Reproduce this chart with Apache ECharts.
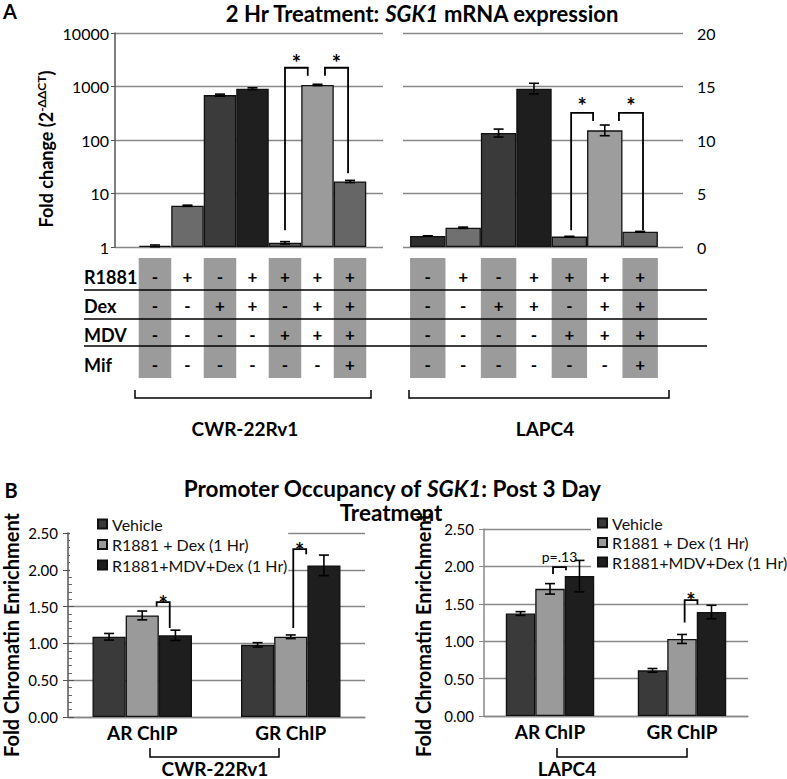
<!DOCTYPE html>
<html><head><meta charset="utf-8">
<script src="https://cdn.jsdelivr.net/npm/echarts@6/dist/echarts.min.js"></script>
<style>html,body{margin:0;padding:0;background:#fff}#c{width:787px;height:779px}</style>
</head><body><div id="c"></div>
<script>
// ---------- Panel A data ----------
const treatmentRows = ['R1881', 'Dex', 'MDV', 'Mif'];
const treatR1881 = ['-', '+', '-', '+', '+', '+', '+'];
const treatDex   = ['-', '-', '+', '+', '-', '+', '+'];
const treatMDV   = ['-', '-', '-', '-', '+', '+', '+'];
const treatMif   = ['-', '-', '-', '-', '-', '-', '+'];
const cellLines = ['CWR-22Rv1', 'LAPC4'];
const conditionIdx = [0, 1, 2, 3, 4, 5, 6];
const cwrFold = [1.05, 5.9, 690, 910, 1.2, 1070, 16.8];
const cwrErr  = [0.04, 0.15, 30, 35, 0.06, 30, 0.8];
const lapcFold = [1.03, 1.8, 10.65, 14.8, 0.97, 10.9, 1.43];
const lapcErr  = [0.02, 0.06, 0.37, 0.5, 0.03, 0.5, 0.03];
// significance brackets: [xLeft, yLeftLeg, xRight, yTop, yRightLeg, yLabel]
const cwrSig  = [[4.0, 2.06, 4.7, 2240, 1580, 3600], [5.23, 1580, 5.94, 2240, 24, 3600]];
const cwrSigLabels = ['*', '*'];
const lapcSig = [[4.05, 1.57, 4.67, 12.53, 11.78, 13.75], [5.40, 11.78, 6.08, 12.53, 1.57, 13.75]];
const lapcSigLabels = ['*', '*'];

// ---------- Panel B data ----------
const chipCats = ['AR ChIP', 'GR ChIP'];
const chipSeries = ['Vehicle', 'R1881 + Dex (1 Hr)', 'R1881+MDV+Dex (1 Hr)'];
const cwrVehicle = [1.09, 0.98];
const cwrRD      = [1.38, 1.09];
const cwrRMD     = [1.11, 2.06];
const cwrVehicleErr = [0.045, 0.03];
const cwrRDErr      = [0.06, 0.025];
const cwrRMDErr     = [0.07, 0.14];
const lapcVehicle = [1.37, 0.61];
const lapcRD      = [1.70, 1.03];
const lapcRMD     = [1.87, 1.39];
const lapcVehicleErr = [0.025, 0.025];
const lapcRDErr      = [0.07, 0.06];
const lapcRMDErr     = [0.21, 0.09];
// brackets: [cat, yLeftLeg, offLeft, yTop, yRightLeg, offRight, yLabel]
const cwrChipSig = [[0, 1.50, 0.097, 1.56, 1.21, 0.185, 1.62], [1, 1.21, 0.017, 2.28, 2.21, 0.104, 2.35]];
const cwrChipSigLabels = ['*', '*'];
const lapcChipSig = [[0, 1.90, 0.023, 1.99, 1.95, 0.121, 2.13], [1, 1.25, 0.02, 1.55, 1.49, 0.117, 1.63]];
const lapcChipSigLabels = ['p=.13', '*'];

// ---------- styles ----------
const FONT = 'Lato, "Open Sans", sans-serif';
const cwrColors  = ['#3a3a3a', '#6b6b6b', '#3b3b3b', '#1f1f1f', '#555555', '#9b9b9b', '#666666'];
const lapcColors = ['#2e2e2e', '#707070', '#3a3a3a', '#1e1e1e', '#606060', '#9d9d9d', '#696969'];
const chipColors = ['#3a3a3a', '#9a9a9a', '#1e1e1e'];

const chart = echarts.init(document.getElementById('c'), null, {renderer: 'svg', width: 787, height: 779});

function lineEl(x1, y1, x2, y2, w) {
  return {type: 'line', shape: {x1, y1, x2, y2}, style: {stroke: '#000', lineWidth: w || 1.5}};
}
function txt(text, x, y, size, weight, extra) {
  return Object.assign({type: 'text', style: {text, x, y, fontSize: size, fontWeight: weight || 'normal', fontFamily: FONT,
    font: (weight || 'normal') + ' ' + size + 'px ' + FONT,
    fill: '#000', textFill: '#000', align: 'center', verticalAlign: 'middle', textAlign: 'center', textVerticalAlign: 'middle'}}, extra || {});
}

function errRenderA(params, api) {
  const x = api.value(0), v = api.value(1), e = api.value(2);
  const t = api.coord([x, v + e]), b = api.coord([x, v - e]);
  const cap = 5;
  return {type: 'group', children: [
    lineEl(t[0], t[1], b[0], b[1], 1.6), lineEl(t[0] - cap, t[1], t[0] + cap, t[1], 1.6), lineEl(b[0] - cap, b[1], b[0] + cap, b[1], 1.6)]};
}
function errRenderB(params, api) {
  const c = api.value(0), v = api.value(1), e = api.value(2), s = api.value(3);
  const band = api.size([1, 0])[0];
  const bw = band * 0.67 / 3;
  const p = api.coord([c, v]);
  const x = p[0] + (s - 1) * bw;
  const t = api.coord([c, v + e])[1], b = api.coord([c, v - e])[1];
  const cap = 5;
  return {type: 'group', children: [
    lineEl(x, t, x, b, 1.6), lineEl(x - cap, t, x + cap, t, 1.6), lineEl(x - cap, b, x + cap, b, 1.6)]};
}
function sigRenderA(labels) {
  return function (params, api) {
    const p1 = api.coord([api.value(0), api.value(1)]);
    const p2 = api.coord([api.value(0), api.value(3)]);
    const p3 = api.coord([api.value(2), api.value(3)]);
    const p4 = api.coord([api.value(2), api.value(4)]);
    const pl = api.coord([api.value(0), api.value(5)]);
    return {type: 'group', children: [
      {type: 'polyline', shape: {points: [p1, p2, p3, p4]}, style: {stroke: '#000', lineWidth: 1.8, fill: null}},
      txt(labels[params.dataIndex], (p2[0] + p3[0]) / 2, pl[1] + 6, 22, 'bold')]};
  };
}
function sigRenderB(labels) {
  return function (params, api) {
    const c = api.value(0);
    const band = api.size([1, 0])[0];
    const cx = api.coord([c, 1])[0];
    const xl = cx + api.value(2) * band, xr = cx + api.value(5) * band;
    const yL = api.coord([c, api.value(1)])[1], yT = api.coord([c, api.value(3)])[1], yR = api.coord([c, api.value(4)])[1];
    const yLab = api.coord([c, api.value(6)])[1];
    const lab = labels[params.dataIndex];
    const isStar = lab === '*';
    return {type: 'group', children: [
      {type: 'polyline', shape: {points: [[xl, yL], [xl, yT], [xr, yT], [xr, yR]]}, style: {stroke: '#000', lineWidth: 1.8, fill: null}},
      txt(lab, (xl + xr) / 2, yLab + (isStar ? 6 : 0), isStar ? 22 : 14, isStar ? 'bold' : 'normal')]};
  };
}
const tableRowsY = [276, 305, 334, 364];
const tableSyms = [treatR1881, treatDex, treatMDV, treatMif];
function tableRender(params, api) {
  const i = api.value(0), yv = api.value(1);
  const cx = api.coord([i, yv])[0];
  const w = api.coord([i + 0.5, yv])[0] - api.coord([i - 0.5, yv])[0];
  const ch = [];
  if (i % 2 === 0) ch.push({type: 'rect', shape: {x: cx - w / 2, y: 258, width: w, height: 120}, style: {fill: '#9b9b9b'}});
  tableSyms.forEach(function (row, r) { ch.push(txt(row[params.dataIndex], cx, tableRowsY[r], 17, 'bold')); });
  return {type: 'group', children: ch};
}

const blackItem = {color: '#000'};
const series = [];
series.push({type: 'bar', xAxisIndex: 0, yAxisIndex: 0, barWidth: 32.5,
  data: cwrFold.map((v, i) => ({value: [conditionIdx[i], v], itemStyle: {color: cwrColors[i]}})),
  itemStyle: {borderColor: '#111', borderWidth: 1.3}, z: 2});
series.push({type: 'custom', xAxisIndex: 0, yAxisIndex: 0, renderItem: errRenderA, z: 3, itemStyle: blackItem,
  data: cwrFold.map((v, i) => [conditionIdx[i], v, cwrErr[i]])});
series.push({type: 'custom', xAxisIndex: 0, yAxisIndex: 0, renderItem: sigRenderA(cwrSigLabels), z: 6, clip: false, itemStyle: blackItem, data: cwrSig});
series.push({type: 'custom', xAxisIndex: 0, yAxisIndex: 0, renderItem: tableRender, z: 1, clip: false, itemStyle: blackItem,
  data: conditionIdx.map(i => [i, 1])});
series.push({type: 'bar', xAxisIndex: 1, yAxisIndex: 1, barWidth: 35.4,
  data: lapcFold.map((v, i) => ({value: [conditionIdx[i], v], itemStyle: {color: lapcColors[i]}})),
  itemStyle: {borderColor: '#111', borderWidth: 1.3}, z: 2});
series.push({type: 'custom', xAxisIndex: 1, yAxisIndex: 1, renderItem: errRenderA, z: 3, itemStyle: blackItem,
  data: lapcFold.map((v, i) => [conditionIdx[i], v, lapcErr[i]])});
series.push({type: 'custom', xAxisIndex: 1, yAxisIndex: 1, renderItem: sigRenderA(lapcSigLabels), z: 6, clip: false, itemStyle: blackItem, data: lapcSig});
series.push({type: 'custom', xAxisIndex: 1, yAxisIndex: 1, renderItem: tableRender, z: 1, clip: false, itemStyle: blackItem,
  data: conditionIdx.map(i => [i, 1])});
const cwrChip = [cwrVehicle, cwrRD, cwrRMD], cwrChipErr = [cwrVehicleErr, cwrRDErr, cwrRMDErr];
const lapcChip = [lapcVehicle, lapcRD, lapcRMD], lapcChipErr = [lapcVehicleErr, lapcRDErr, lapcRMDErr];
[[cwrChip, cwrChipErr, 2, 2, cwrChipSig, cwrChipSigLabels], [lapcChip, lapcChipErr, 3, 4, lapcChipSig, lapcChipSigLabels]].forEach(function (cfg) {
  const vals = cfg[0], errs = cfg[1], xi = cfg[2], yi = cfg[3];
  vals.forEach(function (arr, s) {
    series.push({type: 'bar', name: chipSeries[s], xAxisIndex: xi, yAxisIndex: yi, data: arr,
      barGap: '0%', barCategoryGap: '33%',
      itemStyle: {color: chipColors[s], borderColor: '#111', borderWidth: 1.3}, z: 2});
  });
  const ed = [];
  vals.forEach(function (arr, s) { arr.forEach(function (v, c) { ed.push([c, v, errs[s][c], s]); }); });
  series.push({type: 'custom', xAxisIndex: xi, yAxisIndex: yi, renderItem: errRenderB, z: 3, itemStyle: blackItem, data: ed});
  series.push({type: 'custom', xAxisIndex: xi, yAxisIndex: yi, renderItem: sigRenderB(cfg[5]), z: 6, clip: false, itemStyle: blackItem, data: cfg[4]});
});

const splitLine = {show: true, lineStyle: {color: '#888', width: 1.3}};
const labelStyleA = {color: '#000', fontSize: 16, fontFamily: FONT, formatter: v => String(v)};
const labelStyleB = {color: '#000', fontSize: 15, fontFamily: FONT, formatter: v => v.toFixed(2)};
const legendText = {fontSize: 16, color: '#111', fontFamily: FONT};

const option = {
  animation: false,
  backgroundColor: '#fff',
  grid: [
    {left: 115, top: 33, width: 268, height: 214},
    {left: 403, top: 33, width: 280, height: 214},
    {left: 68, top: 533, width: 297, height: 184},
    {left: 484, top: 529, width: 264, height: 187}
  ],
  xAxis: [
    {gridIndex: 0, type: 'value', min: -1.23, max: 7.015, show: false},
    {gridIndex: 1, type: 'value', min: -0.70, max: 7.21, show: false},
    {gridIndex: 2, type: 'category', data: chipCats, axisLine: {lineStyle: {color: '#888', width: 1.3}}, axisTick: {show: false},
      axisLabel: {color: '#000', fontSize: 19, fontWeight: 'bold', fontFamily: FONT, margin: 6}},
    {gridIndex: 3, type: 'category', data: chipCats, axisLine: {lineStyle: {color: '#888', width: 1.3}}, axisTick: {show: false},
      axisLabel: {color: '#000', fontSize: 19, fontWeight: 'bold', fontFamily: FONT, margin: 6}}
  ],
  yAxis: [
    {gridIndex: 0, type: 'log', logBase: 10, min: 1, max: 10000, axisLine: {show: true, onZero: false, lineStyle: {color: '#555', width: 1.5}},
      axisTick: {show: true, length: 4, lineStyle: {color: '#555'}}, axisLabel: Object.assign({margin: 6}, labelStyleA), splitLine},
    {gridIndex: 1, type: 'value', min: 0, max: 20, interval: 5, position: 'right', axisLine: {show: false, onZero: false}, axisTick: {show: false},
      axisLabel: Object.assign({margin: 14}, labelStyleA), splitLine},
    {gridIndex: 2, type: 'value', min: 0, max: 2.5, interval: 0.5, axisLine: {show: true, onZero: false, lineStyle: {color: '#555', width: 1.5}},
      axisTick: {show: true, length: 5, lineStyle: {color: '#555'}}, axisLabel: Object.assign({margin: 10}, labelStyleB), splitLine},
    {gridIndex: 2, type: 'value', min: 0, max: 2.5, interval: 0.5, position: 'left', offset: 0, axisLine: {show: false, onZero: false},
      axisTick: {show: true, inside: true, length: 6, lineStyle: {color: '#555'}},
      minorTick: {show: true, splitNumber: 5, length: 4, lineStyle: {color: '#666'}}, axisLabel: {show: false}, splitLine: {show: false}},
    {gridIndex: 3, type: 'value', min: 0, max: 2.5, interval: 0.5, axisLine: {show: true, onZero: false, lineStyle: {color: '#888', width: 1.5}},
      axisTick: {show: true, length: 5, lineStyle: {color: '#888'}}, axisLabel: Object.assign({margin: 10}, labelStyleB), splitLine}
  ],
  legend: [
    {data: chipSeries, orient: 'vertical', left: 70, top: 515, itemWidth: 9, itemHeight: 9, itemGap: 4.5, icon: 'rect',
      backgroundColor: '#fff', padding: [1, 1, 1, 27], selectedMode: false, textStyle: legendText},
    {data: chipSeries, orient: 'vertical', left: 591, top: 514, itemWidth: 9, itemHeight: 9, itemGap: 3.5, icon: 'rect',
      backgroundColor: '#fff', padding: [1, 0, 1, 6], selectedMode: false, textStyle: legendText}
  ],
  series: series,
  graphic: [
    txt('A', 10, 11, 20, 'bold'),
    {type: 'text', style: {text: '2 Hr Treatment: {i|SGK1} mRNA expression', x: 422, y: 13, fontSize: 22, fontWeight: 'bold', fontFamily: FONT,
      fill: '#000', align: 'center', verticalAlign: 'middle', textAlign: 'center', textVerticalAlign: 'middle',
      rich: {i: {fontSize: 22, fontWeight: 'bold', fontStyle: 'italic', fontFamily: FONT}}}},
    {type: 'text', x: 45, y: 149, rotation: Math.PI / 2, style: {text: '{a|Fold change (2}{s|-ΔΔCT}{a|)}', x: 0, y: 0,
      fill: '#000', align: 'center', verticalAlign: 'middle', textAlign: 'center', textVerticalAlign: 'middle',
      rich: {a: {fontSize: 18, fontWeight: 'bold', fontFamily: FONT, verticalAlign: 'bottom'},
             s: {fontSize: 12, fontWeight: 'bold', fontFamily: FONT, verticalAlign: 'bottom', padding: [0, 0, 7, 0]}}}},
    ...treatmentRows.map((t, r) => ({type: 'text', style: {text: t, x: 84, y: tableRowsY[r] + 1, fontSize: 18, fontWeight: 'bold', fontFamily: FONT,
      font: 'bold 18px ' + FONT, fill: '#000', align: 'left', verticalAlign: 'middle', textAlign: 'left', textVerticalAlign: 'middle'}})),
    Object.assign(lineEl(84, 290, 707, 290, 1.5), {z: 10}),
    Object.assign(lineEl(84, 319, 707, 319, 1.5), {z: 10}),
    Object.assign(lineEl(84, 346, 707, 346, 1.5), {z: 10}),
    {type: 'polyline', shape: {points: [[135, 390], [135, 398], [371, 398], [371, 390]]}, style: {stroke: '#000', lineWidth: 1.5, fill: null}},
    {type: 'polyline', shape: {points: [[409, 390], [409, 398], [669, 398], [669, 390]]}, style: {stroke: '#000', lineWidth: 1.5, fill: null}},
    txt(cellLines[0], 245, 428, 19, 'bold'),
    txt(cellLines[1], 545, 428, 19, 'bold'),
    txt('B', 11, 490, 20, 'bold'),
    {type: 'text', style: {text: 'Promoter Occupancy of {i|SGK1}: Post 3 Day', x: 392, y: 488, fontSize: 22.5, fontWeight: 'bold', fontFamily: FONT,
      fill: '#000', align: 'center', verticalAlign: 'middle', textAlign: 'center', textVerticalAlign: 'middle',
      rich: {i: {fontSize: 22.5, fontWeight: 'bold', fontStyle: 'italic', fontFamily: FONT}}}},
    txt('Treatment', 391, 512, 22.5, 'bold'),
    {type: 'text', x: 11, y: 635, rotation: Math.PI / 2, style: {text: 'Fold Chromatin Enrichment', x: 0, y: 0, fontSize: 20, fontWeight: 'bold',
      fontFamily: FONT, font: 'bold 20px ' + FONT, fill: '#000', align: 'center', verticalAlign: 'middle', textAlign: 'center', textVerticalAlign: 'middle'}},
    {type: 'text', x: 423, y: 635, rotation: Math.PI / 2, style: {text: 'Fold Chromatin Enrichment', x: 0, y: 0, fontSize: 20, fontWeight: 'bold',
      fontFamily: FONT, font: 'bold 20px ' + FONT, fill: '#000', align: 'center', verticalAlign: 'middle', textAlign: 'center', textVerticalAlign: 'middle'}},
    {type: 'polyline', shape: {points: [[150, 748], [150, 757], [279, 757], [279, 748]]}, style: {stroke: '#000', lineWidth: 1.5, fill: null}},
    {type: 'polyline', shape: {points: [[557, 748], [557, 757], [687, 757], [687, 748]]}, style: {stroke: '#000', lineWidth: 1.5, fill: null}},
    txt(cellLines[0], 215, 768, 19, 'bold'),
    txt(cellLines[1], 567, 768, 19, 'bold')
  ]
};
chart.setOption(option);
</script></body></html>
